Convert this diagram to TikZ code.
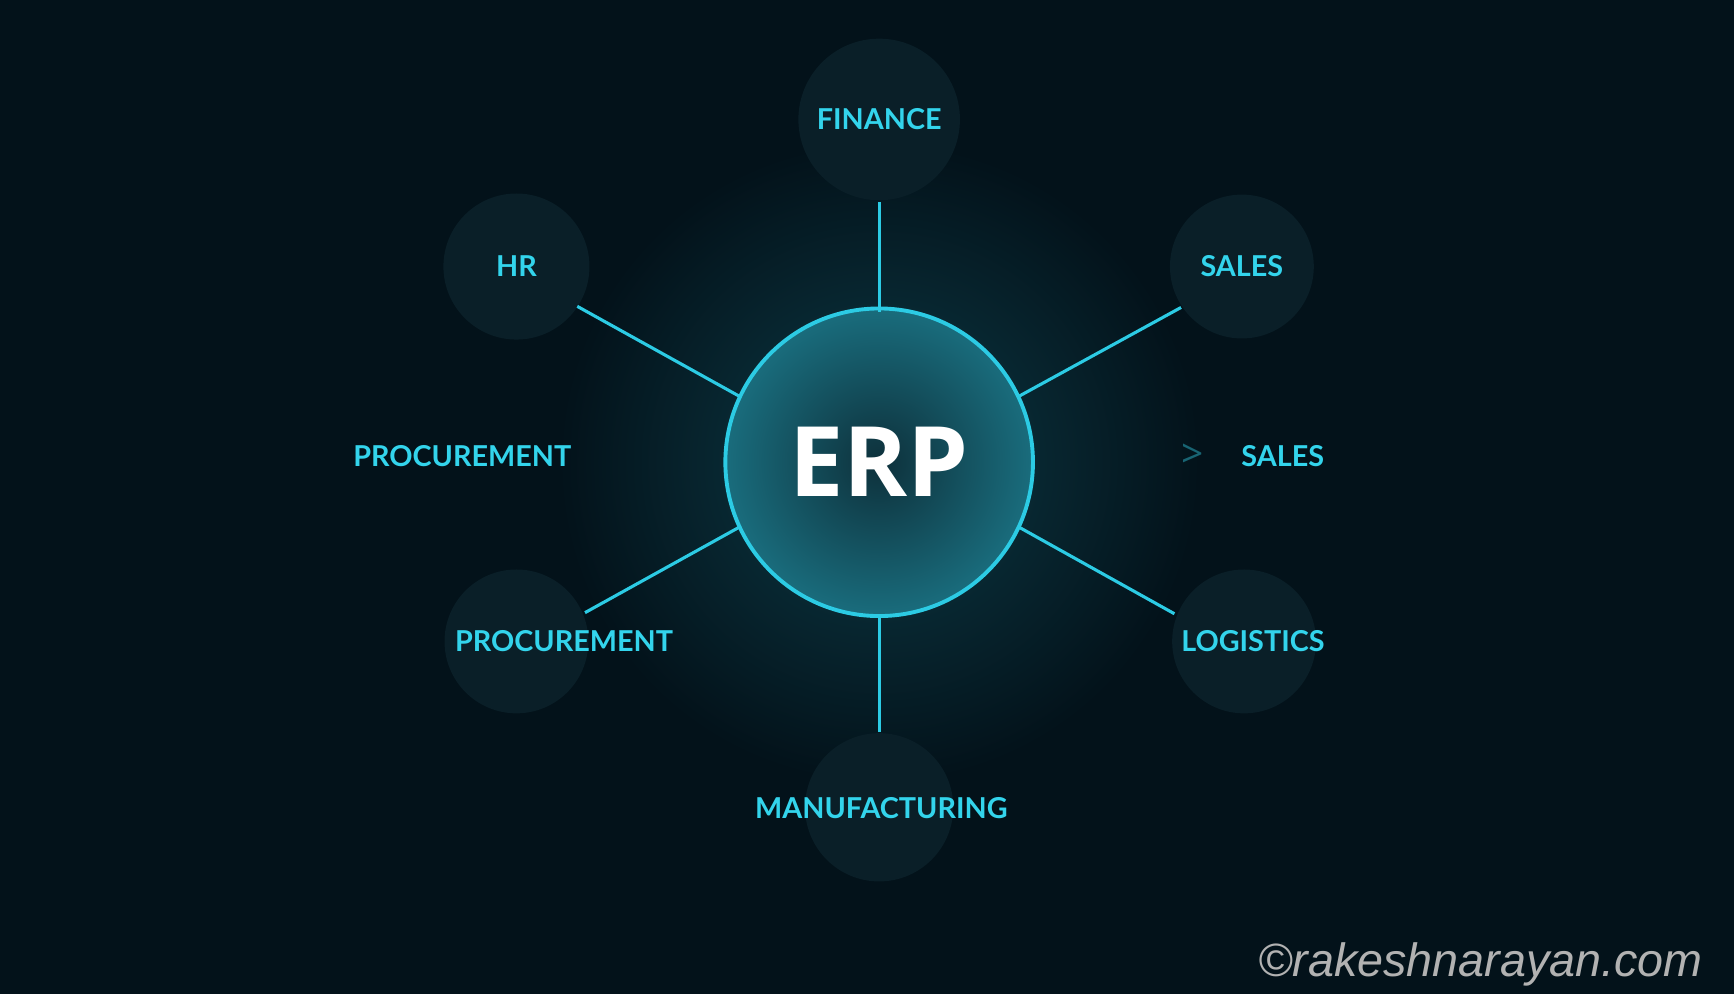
\documentclass[tikz,border=0pt]{standalone}
\usepackage{fontspec}
\setmainfont{Open Sans}
\newfontfamily\labelfont{Lato}
\newfontfamily\markfont{Liberation Sans}
\usetikzlibrary{positioning}
\definecolor{bgdark}{HTML}{03121A}
\definecolor{disc}{HTML}{0A1F28}
\definecolor{cyanline}{HTML}{2CCBE4}
\definecolor{labelcyan}{HTML}{33D4EC}
\tikzset{
  module/.style={circle,fill=disc,inner sep=0pt},
  modtext/.style={text=labelcyan,font=\labelfont\fontsize{7.4}{9}\selectfont\bfseries},
  spoke/.style={draw=cyanline,line width=0.8pt}
}
\begin{document}
\begin{tikzpicture}[x=0.01cm,y=-0.01cm]
\useasboundingbox (0,0) rectangle (1568,899);
\fill[bgdark] (0,0) rectangle (1568,899);
% glow
\shade[inner color=cyanline!22!bgdark,outer color=bgdark] (795,418) circle[radius=2.9cm];
% module discs
\node[module,minimum size=1.46cm] (fin) at (795,108) {};
\node[module,minimum size=1.32cm] (hr) at (467,241) {};
\node[module,minimum size=1.30cm] (salesA) at (1123,241) {};
\node[module,minimum size=1.30cm] (proc) at (467,580) {};
\node[module,minimum size=1.30cm] (log) at (1125,580) {};
\node[module,minimum size=1.34cm] (man) at (795,730) {};
% centre
\node[circle,minimum size=2.78cm,inner sep=0pt,draw=cyanline,line width=1pt,
      inner color=cyanline!10!disc,outer color=cyanline!45!disc] (erp) at (795,418) {};
\node[text=white,font=\fontsize{25}{28}\selectfont\bfseries] at (erp) {ERP};
% labels
\node[modtext] at (fin) {FINANCE};
\node[modtext] at (hr) {HR};
\node[modtext] at (salesA) {SALES};
\node[modtext] (procB) at (418,412) {PROCUREMENT};
\node[modtext] (salesB) at (1160,412) {SALES};
\node[text=cyanline!40!disc,font=\fontsize{10}{12}\selectfont] (chev) at (1078,412) {\textgreater};
\node[modtext] at (510,580) {PROCUREMENT};
\node[modtext] at (1133,580) {LOGISTICS};
\node[modtext] at (797,731) {MANUFACTURING};
% spoke ends
\coordinate (f1) at (795,183); \coordinate (f2) at (795,282);
\coordinate (h1) at (522,277); \coordinate (h2) at (668,358);
\coordinate (s1) at (1068,278); \coordinate (s2) at (922,358);
\coordinate (p1) at (529,554); \coordinate (p2) at (668,477);
\coordinate (l1) at (1062,555); \coordinate (l2) at (922,477);
\coordinate (m1) at (795,662); \coordinate (m2) at (795,556);
\foreach \a/\b in {f1/f2,h1/h2,s1/s2,p1/p2,l1/l2,m1/m2}
  \draw[spoke] (\a) -- (\b);
% watermark
\node[text=gray!60,font=\markfont\fontsize{12}{14}\selectfont\itshape,anchor=east] (mark) at (1552,872) {\textcopyright rakeshnarayan.com};
\end{tikzpicture}
\end{document}
